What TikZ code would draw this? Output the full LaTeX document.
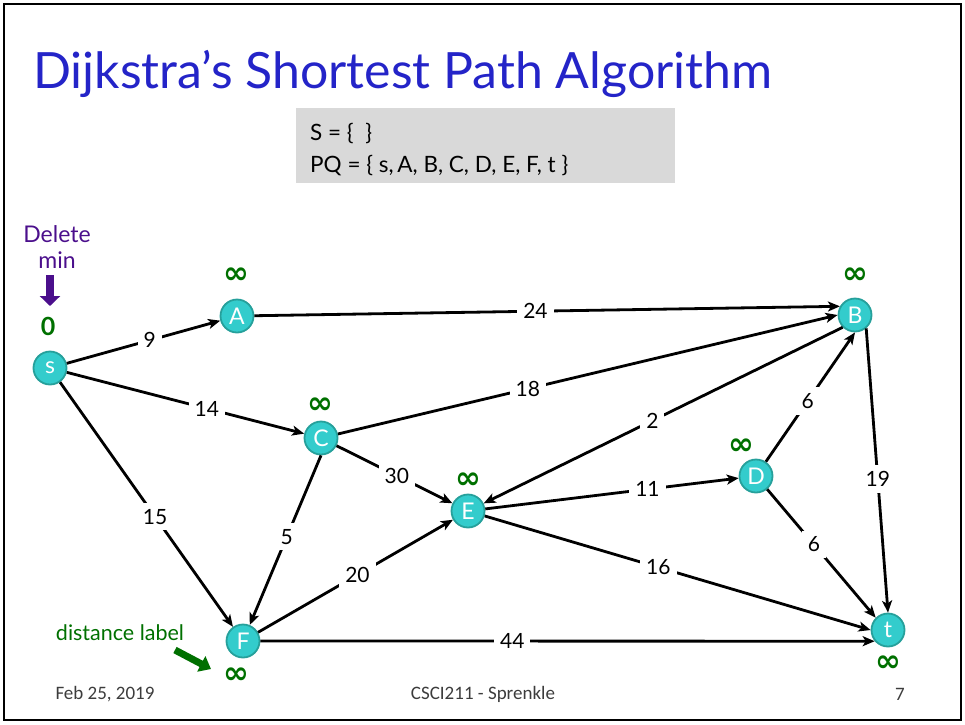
\documentclass[tikz,border=0pt]{standalone}
\usepackage{fontspec}
\setmainfont{Lato}
\newfontfamily\footfont{Carlito}
\newfontfamily\symfont{DejaVu Sans}
\usetikzlibrary{arrows.meta}
\definecolor{titleblue}{RGB}{36,36,200}
\definecolor{nodefill}{RGB}{51,204,204}
\definecolor{nodeedge}{RGB}{38,160,155}
\definecolor{distgreen}{RGB}{0,112,0}
\definecolor{delpurple}{RGB}{75,15,140}
\definecolor{boxgray}{RGB}{217,217,217}
\definecolor{footgray}{RGB}{60,60,60}
\tikzset{
  vert/.style={circle, minimum size=33pt, inner sep=0pt, fill=nodefill, draw=nodeedge, line width=1.8pt, text=white, font=\fontsize{23}{23}\selectfont},
  dist/.style={text=distgreen, font=\symfont\bfseries\fontsize{31}{31}\selectfont},
  edge/.style={line width=2.8pt, -{Stealth[length=12pt,width=10pt,inset=3pt]}},
  wlab/.style={fill=white, inner sep=6pt, font=\fontsize{21}{21}\selectfont},
  foot/.style={text=footgray, font=\footfont\fontsize{19}{19}\selectfont},
}
\begin{document}
\begin{tikzpicture}[x=1pt,y=-1pt]
\useasboundingbox (0,0) rectangle (965,724);
\draw[line width=2.5pt] (4,4) rectangle (961,720);
% title
\node[anchor=base west, text=titleblue, font=\fontsize{50}{50}\selectfont, inner sep=0pt] (title) at (33,88) {Dijkstra’s Shortest Path Algorithm};
% gray box
\node[fill=boxgray, minimum width=379pt, minimum height=75pt, inner sep=0pt, anchor=north west] (box) at (296,108) {};
\node[anchor=base west, inner sep=0pt, font=\fontsize{22.5}{22.5}\selectfont] (sset) at (310,140) {S = \{\ \ \}};
\node[anchor=base west, inner sep=0pt, font=\fontsize{22.5}{22.5}\selectfont] (pq) at (310,172) {PQ = \{ s,\,A, B, C, D, E, F, t \}};
% vertices
\node[vert] (s) at (50,368) {s};
\node[vert] (A) at (237,316) {A};
\node[vert] (B) at (855,315) {B};
\node[vert] (C) at (321,438) {C};
\node[vert] (D) at (756,476) {D};
\node[vert] (E) at (468,511) {E};
\node[vert] (F) at (243,641) {F};
\node[vert] (t) at (888,630) {t};
% distance labels
\node[text=distgreen, font=\bfseries\fontsize{25}{25}\selectfont] (ds) at (48,326) {0};
\node[dist] (dA) at (236,276) {∞};
\node[dist] (dB) at (855,276) {∞};
\node[dist] (dC) at (320,406) {∞};
\node[dist] (dD) at (741,447) {∞};
\node[dist] (dE) at (468,481) {∞};
\node[dist] (dF) at (236,676) {∞};
\node[dist] (dt) at (888,664) {∞};
% edges
\draw[edge] (s) -- node[wlab, pos=0.54] {9} (A);
\draw[edge] (A) -- node[wlab, pos=0.48] {24} (B.150);
\draw[edge] (s) -- node[wlab, pos=0.59] {14} (C);
\draw[edge] (C) -- node[wlab, pos=0.38] {18} (B.west);
\draw[edge] (s) -- node[wlab, pos=0.55] {15} (F);
\draw[edge] (B.south west) -- node[wlab, pos=0.53] {2} (E);
\draw[edge] (C) -- node[wlab, pos=0.52] {30} (E);
\draw[edge] (C.south) -- node[wlab, pos=0.48] {5} (F);
\draw[edge] (F) -- node[wlab, pos=0.51] {20} (E);
\draw[edge] (E) -- node[wlab, pos=0.64] {11} (D);
\draw[edge] (D) -- node[wlab, pos=0.47] {6} (B.south);
\draw[edge] (D) -- node[wlab, pos=0.43] {6} (t.135);
\draw[edge] (B.-50) -- node[wlab, pos=0.53] {19} (t.north);
\draw[edge] (E) -- node[wlab, pos=0.45] {16} (t.west);
\draw[edge] (F.east) -- node[wlab, pos=0.41] {44} (t.220);
% delete min
\node[text=delpurple, align=center, font=\fontsize{23}{26}\selectfont] (del) at (57,247) {Delete\\min};
\coordinate (dtop) at (50,275);
\coordinate (dbot) at (50,306);
\draw[delpurple, line width=8pt, -{Triangle[length=10pt,width=20pt]}] (dtop) -- (dbot);
% distance label annotation
\node[text=distgreen, font=\fontsize{21.5}{21.5}\selectfont] (dl) at (120,633) {distance label};
\coordinate (dlstart) at (175,650);
\coordinate (dlend) at (211,669);
\draw[distgreen, line width=7pt, -{Triangle[length=11pt,width=17pt]}] (dlstart) -- (dlend);
% footer
\node[foot] (date) at (105,694) {Feb 25, 2019};
\node[foot] (course) at (483,694) {CSCI211 - Sprenkle};
\node[foot] (page) at (900,694) {7};
\end{tikzpicture}
\end{document}
